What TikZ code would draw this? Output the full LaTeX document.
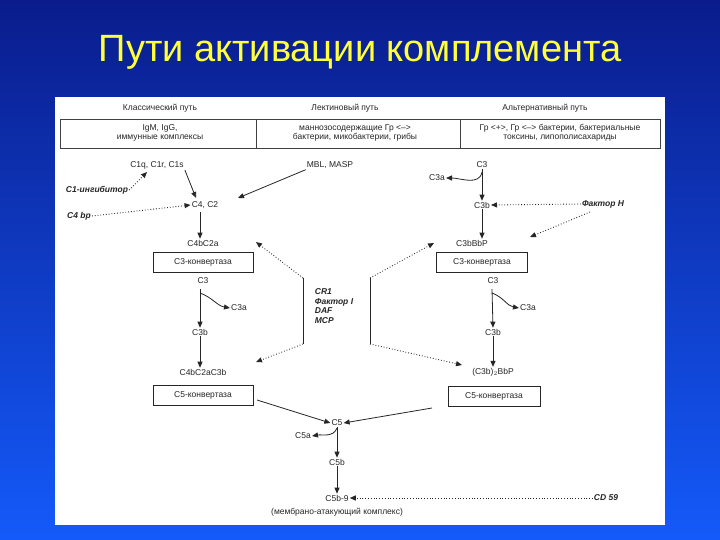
\documentclass[tikz,border=0pt]{standalone}
\usepackage{fontspec}
\setmainfont{Liberation Sans}
\usetikzlibrary{arrows.meta}
\begin{document}
\begin{tikzpicture}[x=1pt,y=-1pt,
  t/.style={font=\fontsize{8.5}{9.5}\selectfont,text=black!85,inner sep=1pt,align=center},
  bi/.style={font=\fontsize{8.5}{9.5}\selectfont\bfseries\itshape,text=black!85,inner sep=1pt,align=left},
  bx/.style={draw=black!85,line width=0.7pt,minimum width=100pt,minimum height=20pt,font=\fontsize{8.5}{9.5}\selectfont,text=black!85},
  ar/.style={-{Triangle[length=6pt,width=5pt]},line width=0.8pt,black!85},
  dar/.style={ar,dotted,line width=0.9pt}]
\shade[top color={rgb,255:red,10;green,28;blue,140},bottom color={rgb,255:red,20;green,90;blue,250}] (0,0) rectangle (720,540);
\useasboundingbox (0,0) rectangle (720,540);
\node[text={rgb,255:red,255;green,255;blue,60},font=\fontsize{38}{42}\selectfont] (title) at (360,52) {Пути активации комплемента};
\fill[white] (55,97) rectangle (665,525);
\draw[black!75,line width=0.7pt] (60,119) rectangle (660,148) (256,119) -- (256,148) (460,119) -- (460,148);
\node[t] (h1) at (160,108) {Классический путь};
\node[t] (h2) at (345,108) {Лектиновый путь};
\node[t] (h3) at (545,108) {Альтернативный путь};
\node[t] (r1) at (160,133) {IgM, IgG,\\иммунные комплексы};
\node[t] (r2) at (355,133) {маннозосодержащие Гр <–>\\бактерии, микобактерии, грибы};
\node[t] (r3) at (560,133) {Гр <+>, Гр <–> бактерии, бактериальные\\токсины, липополисахариды};
\node[t] (c1q) at (157,165) {C1q, C1r, C1s};
\node[t] (mbl) at (330,165) {MBL, MASP};
\node[t] (c3t) at (482,165) {C3};
\node[t] (c3at) at (437,178) {C3a};
\node[t] (c3bt) at (482,205) {C3b};
\node[bi] (fh) at (603,204) {Фактор H};
\node[bi] (c1i) at (97,190) {C1-ингибитор};
\node[bi] (c4bp) at (79,216) {C4 bp};
\node[t] (c4c2) at (205,205) {C4, C2};
\node[t] (c4b2a) at (203,243) {C4bC2a};
\node[bx] (k1) at (203,262) {C3-конвертаза};
\node[t] (lc3) at (203,281) {C3};
\node[t] (lc3a) at (239,308) {C3a};
\node[t] (lc3b) at (200,332) {C3b};
\node[t] (lc) at (203,372) {C4bC2aC3b};
\node[bx] (k2) at (203,395) {C5-конвертаза};
\node[bi] (cr) at (334,306) {CR1\\Фактор I\\DAF\\MCP};
\node[t] (rb) at (472,243) {C3bBbP};
\node[bx,minimum width=91pt] (k3) at (482,262) {C3-конвертаза};
\node[t] (rc3) at (493,281) {C3};
\node[t] (rc3a) at (528,308) {C3a};
\node[t] (rc3b) at (493,332) {C3b};
\node[t] (rc) at (493,372) {(C3b)$_2$BbP};
\node[bx,minimum width=92pt] (k4) at (494,396) {C5-конвертаза};
\node[t] (c5) at (337,423) {C5};
\node[t] (c5a) at (303,436) {C5a};
\node[t] (c5b) at (337,462) {C5b};
\node[t] (c59) at (337,498) {C5b-9};
\node[t] (mak) at (337,512) {(мембрано-атакующий комплекс)};
\node[bi] (cd) at (606,498) {CD 59};
% arrows
\draw[ar] (c1q.south east) -- (196,198);
\draw[dar] (c1i.east) -- (147,172);
\draw[ar] (mbl.south west) -- (238,198);
\draw[dar] (c4bp.east) -- (c4c2.west);
\draw[ar] (200,212) -- (c4b2a.north -| 200,0);
\draw[ar] (c3t.south) -- (c3bt.north);
\draw[ar] (482,172) to[out=-100,in=0] (c3at.east);
\draw[dar] (fh.west) -- (c3bt.east);
\draw[dar] (590,212) -- (530,237);
\draw[ar] (c3bt.south) -- (rb.north -| c3bt);
\draw[ar] (200,289) -- (lc3b.north);
\draw[ar] (200,293) to[out=-20,in=170] (lc3a.west);
\draw[ar] (lc3b.south) -- (lc.north -| 200,0);
\draw[ar] (492,289) -- (rc3b.north);
\draw[ar] (492,293) to[out=-20,in=170] (rc3a.west);
\draw[ar] (rc3b.south) -- (rc.north);
% bracket
\coordinate (la) at (303,278); \coordinate (lb) at (303,344);
\coordinate (ra) at (370,278); \coordinate (rbb) at (370,344);
\draw[black!85,line width=0.7pt] (la) -- (lb) (ra) -- (rbb);
\draw[dar] (la) -- (256,242);
\draw[dar] (lb) -- (256,362);
\draw[dar] (ra) -- (434,243);
\draw[dar] (rbb) -- (462,365);
\draw[ar] (257,400) -- (c5.west);
\draw[ar] (432,408) -- (c5.east);
\draw[ar] (c5.south) -- (c5b.north);
\draw[ar] (337,428) to[out=-110,in=10] (c5a.east);
\draw[ar] (c5b.south) -- (c59.north);
\draw[dar] (cd.west) -- (c59.east);
\end{tikzpicture}
\end{document}
